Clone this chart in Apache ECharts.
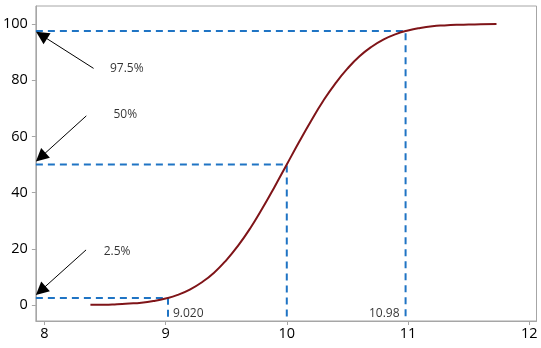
<!DOCTYPE html>
<html>
<head>
<meta charset="utf-8">
<script src="https://cdn.jsdelivr.net/npm/echarts@6/dist/echarts.min.js"></script>
<style>html,body{margin:0;padding:0;background:#fff}#c{width:541px;height:348px}</style>
</head>
<body>
<div id="c"></div>
<script>
// Cumulative percent curve
const curveX = [8.38,8.5,8.6,8.7,8.8,8.9,9.0,9.1,9.2,9.3,9.4,9.5,9.6,9.7,9.8,9.9,10.0,10.1,10.2,10.3,10.4,10.5,10.6,10.7,10.8,10.9,11.0,11.1,11.2,11.3,11.4,11.5,11.6,11.73];
const curveY = [0.1,0.1,0.3,0.5,0.8,1.4,2.3,3.6,5.5,8.1,11.5,15.9,21.2,27.4,34.5,42.1,50,57.9,65.5,72.6,78.8,84.1,88.5,91.9,94.5,96.4,97.7,98.6,99.2,99.5,99.7,99.8,99.9,100];
// Reference levels and quantiles
const levels = [2.5, 50, 97.5];
const levelLabels = ['2.5%', '50%', '97.5%'];
const quantiles = [9.02, 10, 10.98];
const quantileLabels = ['9.020', '', '10.98'];
// Axis ticks
const xTicks = [8, 9, 10, 11, 12];
const yTicks = [0, 20, 40, 60, 80, 100];
const xMin = 7.93, xMax = 12.06, yMin = -5.7, yMax = 106.4;
// Annotation placement (data coordinates); arrowhead centres sit just inside the axis
const arrowTails = [[8.344, 19.6], [8.346, 67.3], [8.406, 84.2]];
const arrowHeads = [[7.970, 5.1], [7.970, 52.6], [7.977, 96.0]];
const labelPos = [[8.60, 18.9], [8.668, 67.6], [8.68, 84.0]];

const FONT = '"Open Sans", "Noto Sans", sans-serif';
const chart = echarts.init(document.getElementById('c'));

const series = [];
// dashed guide lines
levels.forEach((lv, i) => {
  series.push({
    type: 'line', symbol: 'none', silent: true, z: 2,
    lineStyle: { color: '#1f74c4', width: 2, type: [7, 5] },
    data: [[xMin, lv], [quantiles[i], lv], [quantiles[i], yMin]]
  });
});
// curve
series.push({
  type: 'line', symbol: 'none', smooth: true, z: 3,
  lineStyle: { color: '#7f1418', width: 2 },
  data: curveX.map((x, i) => [x, curveY[i]])
});
// arrows
series.push({
  type: 'lines', coordinateSystem: 'cartesian2d', z: 4,
  symbol: ['none', 'triangle'], symbolSize: [8, 13],
  lineStyle: { color: '#000', width: 1, opacity: 1 },
  data: arrowTails.map((t, i) => ({ coords: [t, arrowHeads[i]] }))
});
// level labels
series.push({
  type: 'scatter', symbolSize: 0, z: 5,
  label: {
    show: true, position: 'inside', color: '#000', fontSize: 12, fontFamily: FONT,
    formatter: p => levelLabels[p.dataIndex]
  },
  data: labelPos
});
// quantile labels
series.push({
  type: 'scatter', symbolSize: 0, z: 5,
  label: {
    show: true, color: '#000', fontSize: 12, fontFamily: FONT,
    formatter: p => quantileLabels[p.dataIndex]
  },
  data: quantiles.map((q, i) => ({
    value: [q, -3.2],
    label: i === 2 ? { position: 'left', distance: 6 } : { position: 'right', distance: 5 }
  }))
});

chart.setOption({
  animation: false,
  grid: { left: 35.5, right: 4.5, top: 6, bottom: 27, show: true, borderColor: '#a6a6a6', borderWidth: 1 },
  xAxis: {
    type: 'value', min: xMin, max: xMax,
    splitLine: { show: false },
    axisLine: { onZero: false, lineStyle: { color: '#a6a6a6' } },
    axisTick: { show: true, customValues: xTicks, length: 4, lineStyle: { color: '#a6a6a6' } },
    axisLabel: { customValues: xTicks, margin: 5, color: '#000', fontSize: 14.5, fontFamily: FONT }
  },
  yAxis: {
    type: 'value', min: yMin, max: yMax,
    splitLine: { show: false },
    axisLine: { show: true, onZero: false, lineStyle: { color: '#a6a6a6' } },
    axisTick: { show: true, customValues: yTicks, length: 4, lineStyle: { color: '#a6a6a6' } },
    axisLabel: { customValues: yTicks, margin: 8, color: '#000', fontSize: 14.5, fontFamily: FONT }
  },
  series
});
</script>
</body>
</html>
